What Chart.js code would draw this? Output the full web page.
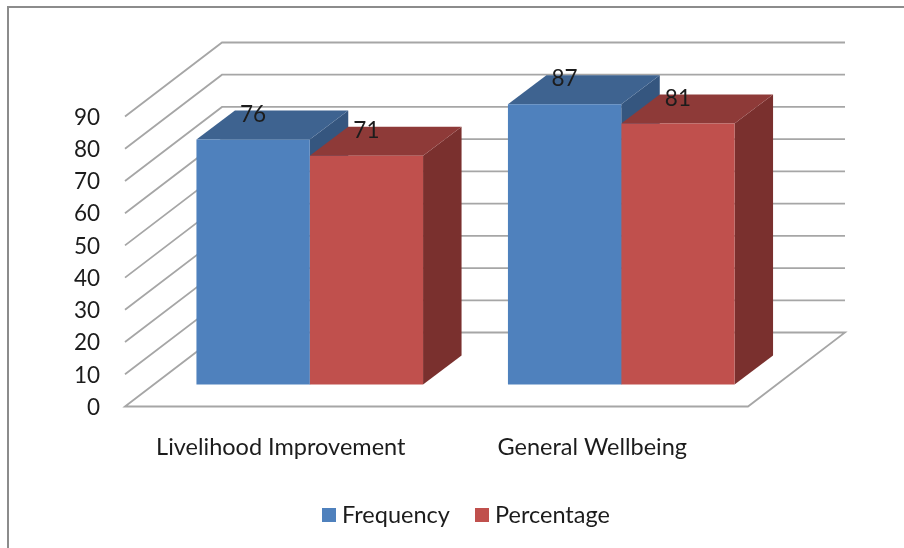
<!DOCTYPE html>
<html>
<head>
<meta charset="utf-8">
<script src="https://cdn.jsdelivr.net/npm/chart.js@4"></script>
<style>
  html, body { margin: 0; background: #fff; overflow: hidden; }
  #wrap { position: relative; width: 904px; height: 548px; }
  #frame { position: absolute; left: 7px; top: 6px; right: 0; bottom: 0; border-left: 2px solid #8c8c8c; border-top: 2px solid #8c8c8c; }
  canvas { position: absolute; left: 0; top: 0; }
</style>
</head>
<body>
<div id="wrap">
  <div id="frame"></div>
  <canvas id="chart" width="904" height="548"></canvas>
</div>
<script>
const categories = ['Livelihood Improvement', 'General Wellbeing'];
const frequency = [76, 87];
const percentage = [71, 81];
const yTicks = [0, 10, 20, 30, 40, 50, 60, 70, 80, 90];

const FONT = 'Lato, "Open Sans", sans-serif';
const TEXT = '#1c1c1c';
const GRID = '#a6a6a6';

// depth of the floor and of the bars, in px
const WALL_DX = 97, WALL_DY = -74;
const BAR_SHIFT_X = 29, BAR_SHIFT_Y = -22;
const BAR_DX = 38.5, BAR_DY = -29;

function poly(ctx, pts, color) {
    ctx.beginPath();
    pts.forEach((p, i) => i ? ctx.lineTo(p[0], p[1]) : ctx.moveTo(p[0], p[1]));
    ctx.closePath();
    ctx.fillStyle = color;
    ctx.fill();
}

// walls and floor behind the bars
const wallsPlugin = {
    id: 'walls',
    beforeDatasetsDraw(chart) {
        const { ctx, chartArea, scales } = chart;
        ctx.save();
        ctx.strokeStyle = GRID;
        ctx.lineWidth = 1.8;
        yTicks.forEach(v => {
            const y = scales.y.getPixelForValue(v);
            ctx.beginPath();
            ctx.moveTo(chartArea.left, y);
            ctx.lineTo(chartArea.left + WALL_DX, y + WALL_DY);
            ctx.lineTo(chartArea.right + WALL_DX, y + WALL_DY);
            if (v === 0) {
                ctx.lineTo(chartArea.right, y);
                ctx.closePath();
            }
            ctx.stroke();
        });
        ctx.restore();
    }
};

// top and side faces, then the fronts are drawn by Chart.js in the shifted plane
const barDepthPlugin = {
    id: 'barDepth',
    beforeDatasetsDraw(chart) {
        const { ctx } = chart;
        ctx.save();
        ctx.translate(BAR_SHIFT_X, BAR_SHIFT_Y);
        chart.data.datasets.forEach((ds, i) => {
            chart.getDatasetMeta(i).data.forEach(bar => {
                const l = bar.x - bar.width / 2, r = bar.x + bar.width / 2;
                poly(ctx, [[r, bar.y], [r + BAR_DX, bar.y + BAR_DY], [r + BAR_DX, bar.base + BAR_DY], [r, bar.base]], ds.sideColor);
                poly(ctx, [[l, bar.y], [l + BAR_DX, bar.y + BAR_DY], [r + BAR_DX, bar.y + BAR_DY], [r, bar.y]], ds.topColor);
            });
        });
    },
    afterDatasetsDraw(chart) {
        const { ctx } = chart;
        // value labels sit on the top faces
        ctx.font = '22.5px ' + FONT;
        ctx.fillStyle = TEXT;
        ctx.textAlign = 'center';
        ctx.textBaseline = 'middle';
        chart.data.datasets.forEach((ds, i) => {
            chart.getDatasetMeta(i).data.forEach((bar, j) => {
                ctx.fillText(ds.data[j], bar.x, bar.y - 25);
            });
        });
        ctx.restore();
    }
};

const legendPlugin = {
    id: 'bottomLegend',
    afterDraw(chart) {
        const { ctx } = chart;
        const xs = [322, 475];
        ctx.save();
        ctx.font = '23.5px ' + FONT;
        ctx.textAlign = 'left';
        ctx.textBaseline = 'middle';
        chart.data.datasets.forEach((ds, i) => {
            ctx.fillStyle = ds.backgroundColor;
            ctx.fillRect(xs[i], 508, 14, 14);
            ctx.fillStyle = TEXT;
            ctx.fillText(ds.label, xs[i] + 20, 515);
        });
        ctx.restore();
    }
};

new Chart(document.getElementById('chart'), {
    type: 'bar',
    data: {
        labels: categories,
        datasets: [
            { label: 'Frequency', data: frequency, backgroundColor: '#4f81bd', topColor: '#3e6390', sideColor: '#35567f', clip: false },
            { label: 'Percentage', data: percentage, backgroundColor: '#c0504d', topColor: '#8e3a38', sideColor: '#7a302e', clip: false }
        ]
    },
    options: {
        responsive: false,
        animation: false,
        layout: { padding: { left: 0, right: 156, top: 116.5, bottom: 0 } },
        datasets: { bar: { categoryPercentage: 0.7275, barPercentage: 1 } },
        plugins: { legend: { display: false }, tooltip: { enabled: false } },
        scales: {
            x: {
                grid: { display: false },
                border: { display: false },
                ticks: { color: TEXT, font: { family: FONT, size: 23.5 }, padding: 19, maxRotation: 0 },
                afterFit(scale) { scale.height = 141.5; }
            },
            y: {
                min: 0,
                max: 90,
                grid: { display: false, drawTicks: false },
                border: { display: false },
                ticks: { stepSize: 10, color: TEXT, font: { family: FONT, size: 22.5 }, padding: 25, labelOffset: 1 },
                afterFit(scale) { scale.width = 125; }
            }
        }
    },
    plugins: [wallsPlugin, barDepthPlugin, legendPlugin]
});
</script>
</body>
</html>
